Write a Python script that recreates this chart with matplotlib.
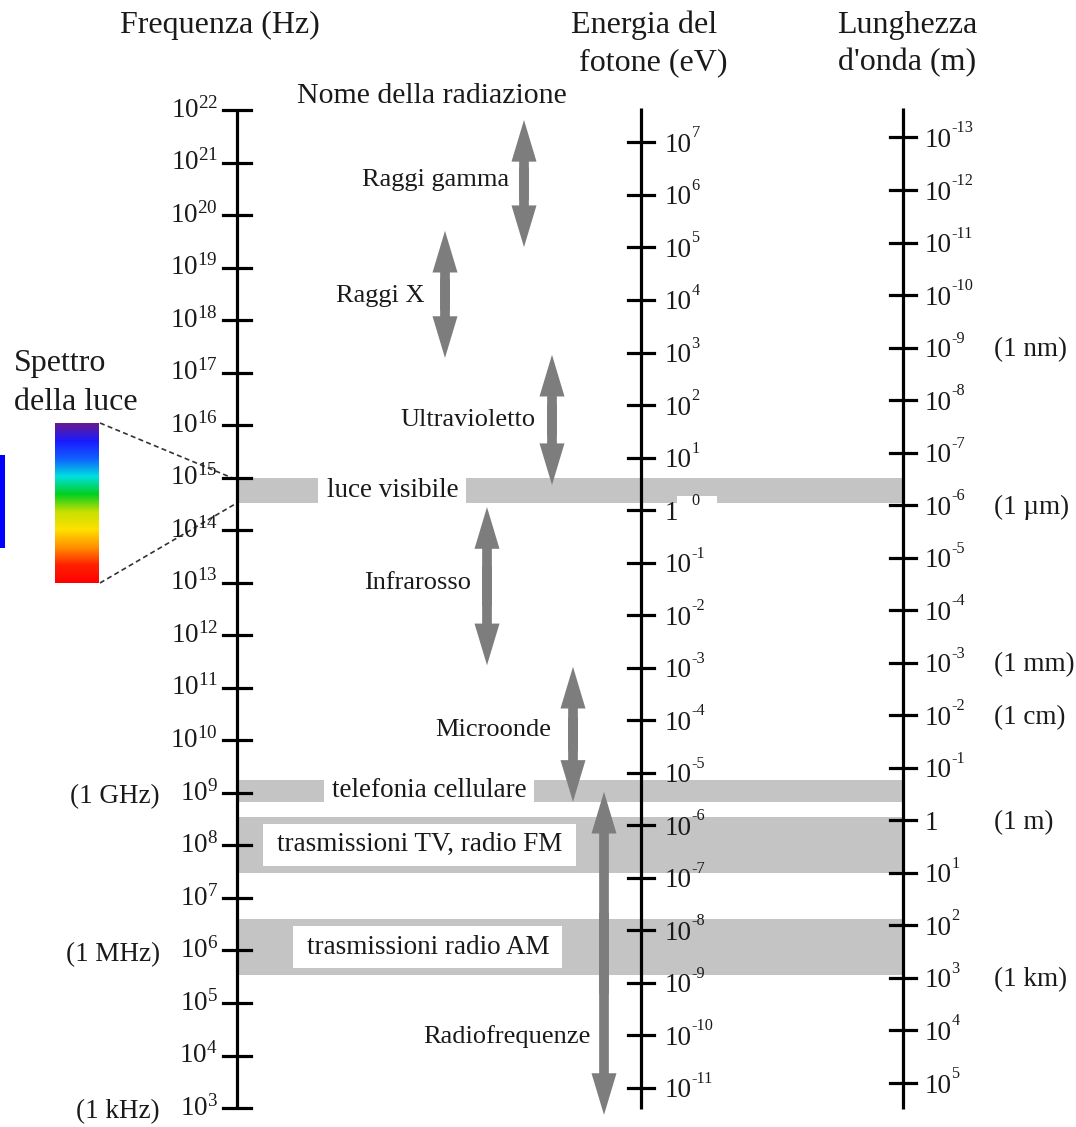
import numpy as np
import matplotlib
matplotlib.use("Agg")
import matplotlib.pyplot as plt
from matplotlib.patches import Rectangle, FancyArrowPatch
from matplotlib.colors import LinearSegmentedColormap

plt.rcParams['font.family'] = ['Liberation Serif', 'DejaVu Serif']
plt.rcParams['mathtext.fontset'] = 'custom'
plt.rcParams['mathtext.rm'] = 'Liberation Serif'
plt.rcParams['mathtext.it'] = 'Liberation Serif:italic'
plt.rcParams['mathtext.bf'] = 'Liberation Serif:bold'

# ---------------- data ----------------
freq_exponents = list(range(22, 2, -1))            # 10^22 ... 10^3 Hz
freq_units = {9: '(1 GHz)', 6: '(1 MHz)', 3: '(1 kHz)'}
energy_exponents = list(range(7, -12, -1))         # 10^7 ... 10^-11 eV
wave_exponents = list(range(-13, 6))               # 10^-13 ... 10^5 m
wave_units = {-9: '(1 nm)', -6: '(1 \u00b5m)', -3: '(1 mm)', -2: '(1 cm)',
              0: '(1 m)', 3: '(1 km)'}

H_EV = 4.1357e-15     # Planck constant, eV*s
C_LIGHT = 2.998e8     # m/s

band_names = ['luce visibile', 'telefonia cellulare',
              'trasmissioni TV, radio FM', 'trasmissioni radio AM']
band_lo = [14.52, 8.83, 7.48, 5.53]    # log10(Hz)
band_hi = [14.99, 9.25, 8.54, 6.60]

radiation_names = ['Raggi gamma', 'Raggi X', 'Ultravioletto',
                   'Infrarosso', 'Microonde', 'Radiofrequenze']
radiation_hi = [21.81, 19.70, 17.34, 14.44, 11.40, 9.02]   # log10(Hz)
radiation_lo = [19.39, 17.28, 14.86, 11.43, 8.83, 2.87]

spectrum_colors = ['#6a1b8f', '#1a1aff', '#1060ff', '#00e0e0', '#00d020',
                   '#c8e000', '#ffe000', '#ff9000', '#ff2000', '#ff0000']

# ---------------- layout helpers ----------------
W, H = 1076, 1127
PX_PER_DEC = 52.53
Y_TOP = 110.0   # pixel row of 10^22 Hz


def L(py):
    """pixel row -> log10 frequency coordinate"""
    return 22 - (py - Y_TOP) / PX_PER_DEC


def dpx(p):
    return p / PX_PER_DEC


fig = plt.figure(figsize=(W / 100, H / 100), dpi=100)
ax = fig.add_axes([0, 0, 1, 1])
ax.set_xlim(0, W)
ax.set_ylim(L(H), L(0))
ax.axis('off')

TXT = '#1a1a1a'
BAND = '#c4c4c4'
ARROW = '#7d7d7d'
FS = 19.5
FS_NAME = 19.0
FS_TITLE = 23.0
X_F, X_E, X_W = 237, 641, 903

# ---------------- bands ----------------
for lo, hi in zip(band_lo, band_hi):
    ax.add_patch(Rectangle((X_F, lo), X_W - X_F, hi - lo, fc=BAND, ec='none', zorder=1))

# text in bands
band_text_box = [(318, 466, 393), (324, 534, 429), (263, 576, 420), (293, 562, 428)]
for i, (name, (x0, x1, xc)) in enumerate(zip(band_names, band_text_box)):
    lo, hi = band_lo[i], band_hi[i]
    if i < 2:
        ax.add_patch(Rectangle((x0, lo), x1 - x0, hi - lo, fc='white', ec='none', zorder=2))
    else:
        ax.add_patch(Rectangle((x0, lo + dpx(7)), x1 - x0, hi - lo - dpx(14),
                               fc='white', ec='none', zorder=2))
    yc = (lo + hi) / 2
    ax.text(xc, yc, name, ha='center', va='center', fontsize=FS, color=TXT, zorder=3)

# ---------------- axes lines ----------------
ax.plot([X_F, X_F], [22, 3], color='black', lw=2.3, zorder=5, solid_capstyle='butt')
ax.plot([X_E, X_E], [L(108), L(1109)], color='black', lw=2.3, zorder=5, solid_capstyle='butt')
ax.plot([X_W, X_W], [L(108), L(1109)], color='black', lw=2.3, zorder=5, solid_capstyle='butt')

# frequency ticks
for e in freq_exponents:
    ax.plot([X_F - 14, X_F + 14], [e, e], color='black', lw=2.3, zorder=5)
    ax.text(218, e, r'$\mathregular{10^{%d}}$' % e, ha='right', va='center',
            fontsize=FS, color=TXT, zorder=6)
    if e in freq_units:
        ax.text(160, e - dpx(4), freq_units[e], ha='right', va='center',
                fontsize=FS, color=TXT, zorder=6)


def pow_label(x, y, exp, z=6):
    if exp == 0 and x > 800:
        ax.text(x, y + dpx(-3), '1', ha='left', va='center', fontsize=FS, color=TXT, zorder=z)
        return
    ax.text(x, y + dpx(-3), '10', ha='left', va='center', fontsize=FS, color=TXT, zorder=z)
    ax.text(x + 26.5, y + dpx(5), str(exp), ha='left', va='baseline',
            fontsize=FS * 0.6, color=TXT, zorder=z + 2)


# energy ticks
for e in energy_exponents:
    y = np.log10(10.0 ** e / H_EV)
    ax.plot([X_E - 13, X_E + 13], [y, y], color='black', lw=2.3, zorder=5)
    pow_label(X_E + 24, y, e)

# white patch that partially hides the 10^0 eV label
ax.add_patch(Rectangle((677, L(525)), 40, dpx(29), fc='white', ec='none', zorder=7))

# wavelength ticks
for e in wave_exponents:
    y = np.log10(C_LIGHT / 10.0 ** e)
    ax.plot([X_W - 13, X_W + 13], [y, y], color='black', lw=2.3, zorder=5)
    pow_label(X_W + 22, y, e)
    if e in wave_units:
        ax.text(994, y + dpx(-2), wave_units[e], ha='left', va='center',
                fontsize=FS, color=TXT, zorder=6)

# ---------------- radiation arrows ----------------
arrow_x = [524, 445, 552, 487, 573, 604]
label_pos = [(436, 180), (380, 296), (468, 420), (418, 583), (493, 730), (507, 1037)]
style = 'simple,head_length=3.0,head_width=1.8,tail_width=0.7'
for name, hi, lo, x, (lx, ly) in zip(radiation_names, radiation_hi, radiation_lo,
                                     arrow_x, label_pos):
    mid = (hi + lo) / 2
    ov = 0.25 * (hi - lo) / 2
    ax.add_patch(FancyArrowPatch((x, mid - ov), (x, hi), arrowstyle=style,
                                 mutation_scale=10, fc=ARROW, ec='none', lw=0,
                                 shrinkA=0, shrinkB=0, zorder=4))
    ax.add_patch(FancyArrowPatch((x, mid + ov), (x, lo), arrowstyle=style,
                                 mutation_scale=10, fc=ARROW, ec='none', lw=0,
                                 shrinkA=0, shrinkB=0, zorder=4))
    ax.text(lx, L(ly), name, ha='center', va='center', fontsize=FS_NAME, color=TXT, zorder=6)

# ---------------- spectrum of light ----------------
cmap = LinearSegmentedColormap.from_list('spec', spectrum_colors)
grad = np.linspace(0, 1, 256).reshape(-1, 1)
ax.imshow(grad, cmap=cmap, extent=(55, 99, L(583), L(423)), aspect='auto',
          origin='upper', zorder=3, interpolation='bilinear')
ax.plot([100, X_F - 4], [L(423), band_hi[0]], ls=(0, (3, 2)), color='#333333', lw=1.2, zorder=4)
ax.plot([100, X_F], [L(583), band_lo[0]], ls=(0, (3, 2)), color='#333333', lw=1.2, zorder=4)
ax.text(14, L(363), 'Spettro', ha='left', va='center', fontsize=FS_TITLE, color=TXT)
ax.text(14, L(402), 'della luce', ha='left', va='center', fontsize=FS_TITLE, color=TXT)

# stray blue mark on the left edge
ax.add_patch(Rectangle((0, L(548)), 5, dpx(93), fc='#0000ff', ec='none', zorder=3))

# ---------------- titles ----------------
ax.text(220, L(25), 'Frequenza (Hz)', ha='center', va='center', fontsize=FS_TITLE, color=TXT)
ax.text(644, L(25), 'Energia del', ha='center', va='center', fontsize=FS_TITLE, color=TXT)
ax.text(653, L(63), 'fotone (eV)', ha='center', va='center', fontsize=FS_TITLE, color=TXT)
ax.text(907, L(25), 'Lunghezza', ha='center', va='center', fontsize=FS_TITLE, color=TXT)
ax.text(907, L(63), "d'onda (m)", ha='center', va='center', fontsize=FS_TITLE, color=TXT)
ax.text(432, L(96), 'Nome della radiazione', ha='center', va='center', fontsize=21.5, color=TXT)

fig.savefig('out.png', dpi=100, facecolor='white')
